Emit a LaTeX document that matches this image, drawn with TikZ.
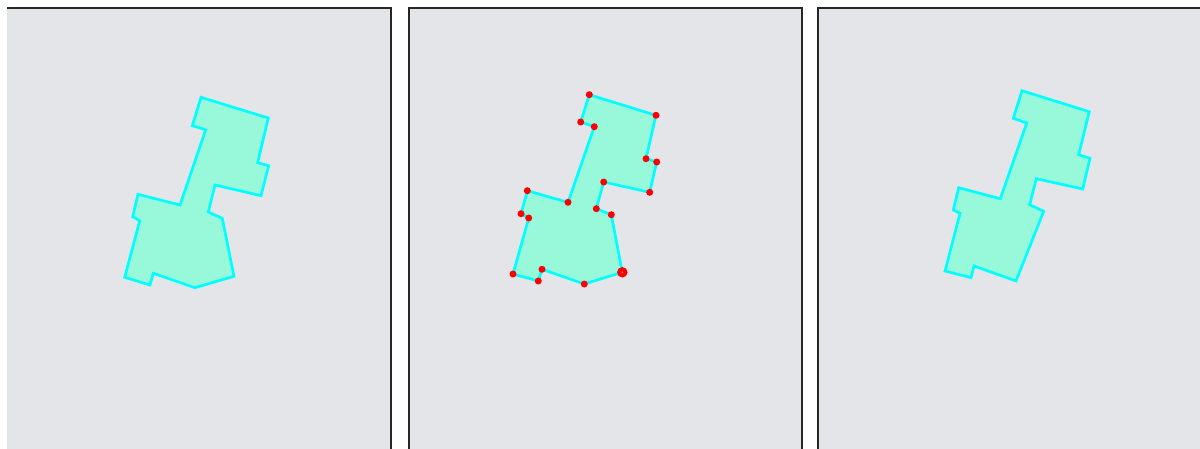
\documentclass[tikz,border=0pt]{standalone}
\usepackage{tikz}
\usetikzlibrary{calc}
\usepackage{xcolor}
\definecolor{panelgray}{HTML}{E4E5E9}
\definecolor{mint}{HTML}{98F8DA}
\definecolor{edgecyan}{HTML}{00FFFF}
\definecolor{dotred}{HTML}{FF0000}

\begin{document}
\begin{tikzpicture}[
		x=1pt, y=-1pt,
		panel/.style = {fill=panelgray, draw=black!85, line width=1.2pt},
		outline/.style = {fill=mint, draw=edgecyan, line width=2.7pt, line join=miter},
		v/.style = {circle, fill=dotred, inner sep=0pt, minimum size=7pt},
		vsel/.style = {circle, fill=dotred, inner sep=0pt, minimum size=10.5pt},
		]
		
		\useasboundingbox (0, 0) rectangle (1200, 448);
		
		% panels
		\fill[panelgray]	(7, 8)		rectangle	(391, 452);
		\draw[black!85, line width=1.2pt]	(7, 8) -- (391, 8) -- (391, 452);
		\draw[panel]	(409, 8)	rectangle	(802, 452);
		\fill[panelgray]	(818, 8)	rectangle	(1204, 452);
		\draw[black!85, line width=1.2pt]	(818, 452) -- (818, 8) -- (1204, 8);
		
		% original outline
		\draw[outline]	(201, 97.3) -- (268.3, 118) -- (257.7, 162.7) -- (268.7, 165.7)
			-- (261, 195.7) -- (215, 185) -- (208.3, 212) -- (222.3, 218.3)
			-- (234, 276.3) -- (195, 287.7) -- (153.3, 273.3) -- (150, 285)
			-- (124.7, 277.3) -- (139.7, 220.7) -- (132.7, 216.7) -- (138, 194.3)
			-- (180, 205) -- (205.7, 129.7) -- (192.3, 125.7) -- cycle;
		
		% vertices
		\coordinate	(p1)	at	(589.3, 94.7);
		\coordinate	(p2)	at	(656, 115.3);
		\coordinate	(p3)	at	(646, 158.7);
		\coordinate	(p4)	at	(656.7, 162);
		\coordinate	(p5)	at	(649.7, 192.3);
		\coordinate	(p6)	at	(603.7, 182);
		\coordinate	(p7)	at	(596.3, 208.7);
		\coordinate	(p8)	at	(611.3, 214.7);
		\coordinate	(p9)	at	(622.3, 272.3);
		\coordinate	(p10)	at	(584.3, 284);
		\coordinate	(p11)	at	(542, 269.3);
		\coordinate	(p12)	at	(538.3, 281);
		\coordinate	(p13)	at	(513, 274);
		\coordinate	(p14)	at	(528.7, 218);
		\coordinate	(p15)	at	(521, 213.7);
		\coordinate	(p16)	at	(527.3, 190.7);
		\coordinate	(p17)	at	(568, 202.3);
		\coordinate	(p18)	at	(594.3, 126.7);
		\coordinate	(p19)	at	(580.7, 122);
		
		\draw[outline]	(p1) -- (p2) -- (p3) -- (p4) -- (p5) -- (p6) -- (p7) -- (p8)
			-- (p9) -- (p10) -- (p11) -- (p12) -- (p13) -- (p14) -- (p15)
			-- (p16) -- (p17) -- (p18) -- (p19) -- cycle;
		
		\foreach \i in {1,...,8,10,11,...,19}
			\node[v]	(d\i)	at	(p\i)	{};
		\node[vsel]	(d9)	at	(p9)	{};
		\node[circle, fill=red!55!white, inner sep=0pt, minimum size=2pt]	(c9)	at	(p9)	{};
		
		% simplified outline
		\draw[outline]	(1022, 90.7) -- (1089.3, 111.7) -- (1078.7, 154.7) -- (1090, 158.3)
			-- (1082.7, 189) -- (1036.3, 178.7) -- (1029.7, 204.7) -- (1043.7, 211.3)
			-- (1016, 281) -- (974, 266) -- (971, 277.7) -- (945, 271)
			-- (960, 213.3) -- (953.3, 210) -- (958.7, 187.7) -- (1000.3, 198.7)
			-- (1026.7, 123) -- (1013.3, 118.3) -- cycle;
	\end{tikzpicture}
\end{document}
